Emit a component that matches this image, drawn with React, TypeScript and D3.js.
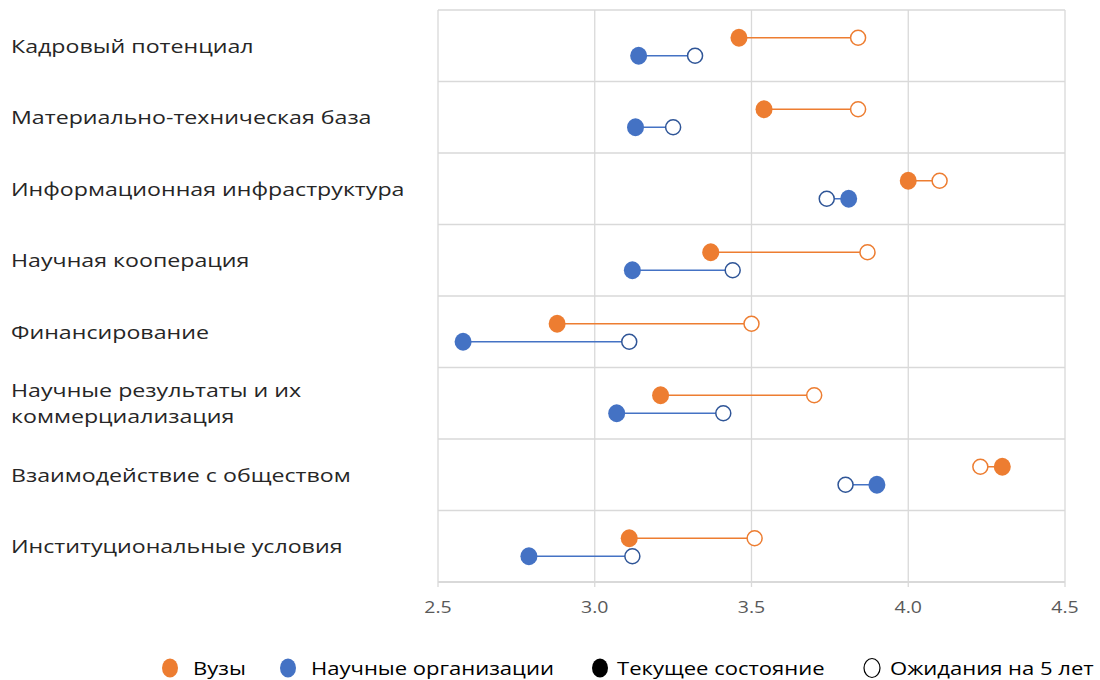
import React, { useEffect, useRef } from 'react';
import * as d3 from 'd3';

// Categories (top to bottom)
const categories: string[][] = [
  ['Кадровый потенциал'],
  ['Материально-техническая база'],
  ['Информационная инфраструктура'],
  ['Научная кооперация'],
  ['Финансирование'],
  ['Научные результаты и их', 'коммерциализация'],
  ['Взаимодействие с обществом'],
  ['Институциональные условия'],
];

// Вузы: current state and 5-year expectation
const uniCurrent = [3.46, 3.54, 4.0, 3.37, 2.88, 3.21, 4.3, 3.11];
const uniExpected = [3.84, 3.84, 4.1, 3.87, 3.5, 3.7, 4.23, 3.51];

// Научные организации: current state and 5-year expectation
const sciCurrent = [3.14, 3.13, 3.81, 3.12, 2.58, 3.07, 3.9, 2.79];
const sciExpected = [3.32, 3.25, 3.74, 3.44, 3.11, 3.41, 3.8, 3.12];

const xTicks = [2.5, 3.0, 3.5, 4.0, 4.5];

const ORANGE = '#ED7D31';
const BLUE = '#4472C4';
const BLUE_DARK = '#2F5597';
const GRID = '#d9d9d9';
const FONT = "'Open Sans', 'DejaVu Sans', sans-serif";
// Century Gothic-like width: stretch text horizontally
const STRETCH = 1.22;
const LEGEND_STRETCH = 1.16;

interface Series {
  name: string;
  current: number[];
  expected: number[];
  color: string;
  hollowStroke: string;
  offset: number;
}

const series: Series[] = [
  { name: 'Вузы', current: uniCurrent, expected: uniExpected, color: ORANGE, hollowStroke: ORANGE, offset: -8 },
  { name: 'Научные организации', current: sciCurrent, expected: sciExpected, color: BLUE, hollowStroke: BLUE_DARK, offset: 10 },
];

const App: React.FC = () => {
  const ref = useRef<SVGSVGElement>(null);

  useEffect(() => {
    if (!ref.current) return;
    const svg = d3.select(ref.current);
    svg.selectAll('*').remove();

    const left = 438;
    const right = 1065;
    const top = 10;
    const bottom = 582;

    const x = d3.scaleLinear().domain([2.5, 4.5]).range([left, right]);
    const y = d3.scaleBand<number>()
      .domain(d3.range(categories.length))
      .range([top, bottom])
      .paddingInner(0);

    // Grid: vertical lines
    svg.append('g')
      .selectAll('line')
      .data(xTicks)
      .enter()
      .append('line')
      .attr('x1', (d: number) => x(d))
      .attr('x2', (d: number) => x(d))
      .attr('y1', top)
      .attr('y2', bottom + 5)
      .attr('stroke', GRID)
      .attr('stroke-width', 1.3);

    // Grid: horizontal lines at row boundaries
    const bounds = d3.range(categories.length + 1).map((i: number) => top + i * y.bandwidth());
    svg.append('g')
      .selectAll('line')
      .data(bounds)
      .enter()
      .append('line')
      .attr('x1', left)
      .attr('x2', right)
      .attr('y1', (d: number) => d)
      .attr('y2', (d: number) => d)
      .attr('stroke', GRID)
      .attr('stroke-width', (d: number, i: number) => (i === categories.length ? 2 : 1.3));

    // Tick labels
    svg.append('g')
      .selectAll('text')
      .data(xTicks)
      .enter()
      .append('text')
      .attr('transform', (d: number) => `translate(${x(d)},${bottom + 31}) scale(${STRETCH},1)`)
      .attr('text-anchor', 'middle')
      .attr('font-family', FONT)
      .attr('font-size', '16px')
      .attr('fill', '#595959')
      .text((d: number) => d3.format('.1f')(d));

    // Category labels
    categories.forEach((lines, i) => {
      const cy = (y(i) as number) + y.bandwidth() / 2;
      const lh = 26;
      const start = cy - ((lines.length - 1) * lh) / 2;
      const t = svg.append('text')
        .attr('transform', `translate(11,${start + 7}) scale(${STRETCH},1)`)
        .attr('font-family', FONT)
        .attr('font-size', '19px')
        .attr('fill', '#262626');
      lines.forEach((ln, j) => {
        t.append('tspan')
          .attr('x', 0)
          .attr('y', j * lh)
          .text(ln);
      });
    });

    // Dumbbells
    series.forEach((s) => {
      const g = svg.append('g');
      const rowY = (i: number) => (y(i) as number) + y.bandwidth() / 2 + s.offset;
      g.selectAll('line')
        .data(d3.range(categories.length))
        .enter()
        .append('line')
        .attr('x1', (i: number) => x(s.current[i]))
        .attr('x2', (i: number) => x(s.expected[i]))
        .attr('y1', rowY)
        .attr('y2', rowY)
        .attr('stroke', s.color)
        .attr('stroke-width', 1.5);
      g.selectAll('.hollow')
        .data(d3.range(categories.length))
        .enter()
        .append('circle')
        .attr('class', 'hollow')
        .attr('cx', (i: number) => x(s.expected[i]))
        .attr('cy', rowY)
        .attr('r', 7.5)
        .attr('fill', '#fff')
        .attr('stroke', s.hollowStroke)
        .attr('stroke-width', 1.5);
      g.selectAll('.filled')
        .data(d3.range(categories.length))
        .enter()
        .append('ellipse')
        .attr('class', 'filled')
        .attr('cx', (i: number) => x(s.current[i]))
        .attr('cy', rowY)
        .attr('rx', 8.5)
        .attr('ry', 9)
        .attr('fill', s.color);
    });

    // Legend
    const legend = svg.append('g').attr('transform', 'translate(0, 668)');
    const items = [
      { x: 170, gap: 23, label: 'Вузы', fill: ORANGE, stroke: 'none' },
      { x: 288, gap: 23, label: 'Научные организации', fill: BLUE, stroke: 'none' },
      { x: 600, gap: 17, label: 'Текущее состояние', fill: '#000', stroke: 'none' },
      { x: 872, gap: 18, label: 'Ожидания на 5 лет', fill: '#fff', stroke: '#000' },
    ];
    items.forEach((it) => {
      legend.append('ellipse')
        .attr('cx', it.x)
        .attr('cy', 0)
        .attr('rx', 8)
        .attr('ry', 9.5)
        .attr('fill', it.fill)
        .attr('stroke', it.stroke)
        .attr('stroke-width', 1.2);
      legend.append('text')
        .attr('transform', `translate(${it.x + it.gap},7) scale(${LEGEND_STRETCH},1)`)
        .attr('font-family', FONT)
        .attr('font-size', '19px')
        .attr('fill', '#000')
        .text(it.label);
    });
  }, []);

  return (
    <svg
      ref={ref}
      width={1100}
      height={680}
      style={{ position: 'absolute', left: 0, top: 0, background: '#fff' }}
    />
  );
};

export default App;
